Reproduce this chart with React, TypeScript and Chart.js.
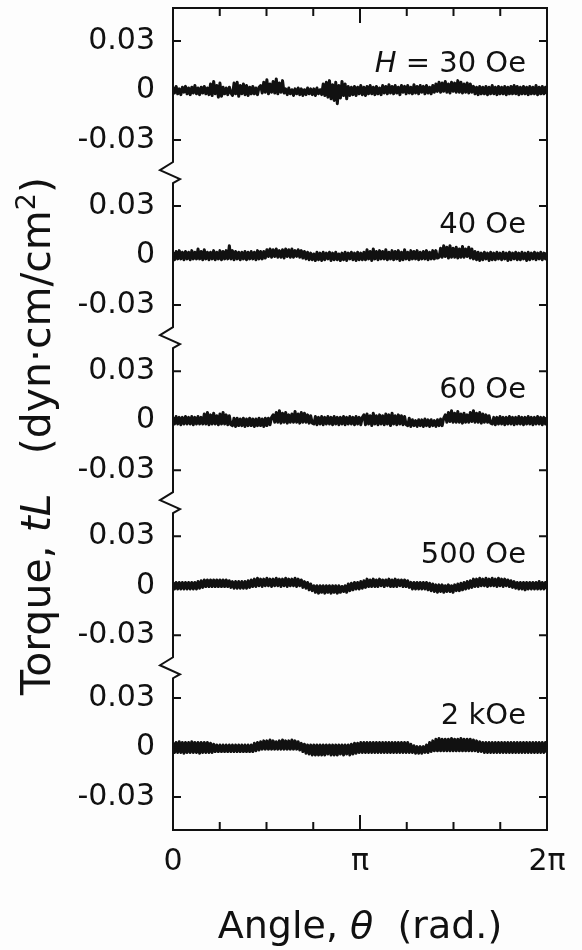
import { useEffect, useRef } from "react";
import { Chart, registerables } from "chart.js";

Chart.register(...registerables);

// ---- data (torque values in units of 0.001 dyn·cm/cm², sampled evenly over 0..2π) ----
const fieldLabels = ["30 Oe", "40 Oe", "60 Oe", "500 Oe", "2 kOe"];
const panelOffsets = [-0.05, -0.15, -0.25, -0.35, -0.448];
const breakPositions = [-0.1, -0.2, -0.3, -0.4];
const yTickValues = [0.03, 0, -0.03];
const yTickLabels = ["0.03", "0", "-0.03"];
const xTickValues = [0, Math.PI, 2 * Math.PI];
const xTickLabels = ["0", "π", "2π"];
const xMinorTicks = [1, 2, 3, 5, 6, 7].map((k) => (k * Math.PI) / 4);

const torque30 = [
  2, -1.5, 2.5, -2, 1, -2.5, 2, -1, 2.5, -2,
  1.5, -2.5, 2, -1.5, 3, -2, 1.5, -2.5, 2, -1.5,
  2.5, -2, 1.5, -2.5, 4, -3, 5.5, -2, 3, -4,
  4.5, -3.5, 2, -2, 1.5, -2.5, 2, -1.5, -3, 4.5,
  -2, 5, -3.5, 3, -2, 4, -2.5, 3, -3, 2,
  -2, 2.5, -2, 1.5, -2.5, 2, 3, -1.5, 5, -1,
  6.5, -2, 4, -1, 5.5, -1.5, 7, -2, 4.5, -1,
  6, -1.5, 1, -2.5, 1.5, -2, 0.5, -3, 1, -2,
  1.5, -2.5, 1, -3, 0.5, -2.5, 1.5, -2, 1, -2.5,
  1, -3, 1.5, -2, 0.5, -2.5, 4, -3, 5, -4,
  6, -5, 3.5, -6, 5, -8, 3, -4.5, 5.5, -3,
  4, -5, 2.5, -3, 2, -2.5, 2.5, -3, 2, -2,
  3, -2.5, 2, -3, 2.5, -2, 3, -2, 2, -2.5,
  2.5, -2, 1.5, -2.5, 3, -1.5, 2.5, -2, 3.5, -1.5,
  2.5, -2, 3, -1.5, 2, -2.5, 3, -1, 2.5, -2,
  3, -1.5, 2, -2, 3.5, -1.5, 2.5, -2, 3, -1,
  2.5, -2, 3, -1.5, 2, -2, 3, -1, 4, -0.5,
  5, -1, 4.5, -0.5, 5.5, -1, 4, -1.5, 5, -0.5,
  4.5, -1, 6, -1, 5, -1.5, 4, -1, 4.5, -1.5,
  4, -1, 2.5, -2, 2, -2.5, 2.5, -2, 2, -2,
  2.5, -2.5, 2, -2, 3, -2, 2, -2.5, 2.5, -2,
  2, -2, 2.5, -2.5, 2, -2, 2.5, -2, 3, -2,
  2.5, -2.5, 2, -2, 2.5, -2, 2, -2.5, 2.5, -2,
  2, -2, 3, -2.5, 2, -2, 2.5, -2, 2, -2,
];
const torque40 = [
  2, -2.5, 2.5, -2, 3, -2, 2, -2.5, 2.5, -2,
  2, -2.5, 3, -2, 2, -2, 4, -2, 2.5, -2.5,
  3.5, -2, 2, -2.5, 2, -2, 3, -2.5, 2, -2,
  3, -2.5, 2.5, -2, 3, -2, 6, -2, 3, -2.5,
  2.5, -2, 2, -2.5, 2, -2, 2.5, -2.5, 2, -2,
  2.5, -2, 2, -2.5, 3, -2, 2.5, -2, 2.5, -1.5,
  3.5, -0.5, 4, -1, 3.5, -0.5, 4, -1, 3, -1,
  3.5, -1.5, 4, -0.5, 3.5, -1, 4, -1, 3, -0.5,
  3.5, -1, 3, -1.5, 2.5, -2, 2, -2.5, 1.5, -2.5,
  1, -3, 2, -2.5, 1.5, -3, 2, -2.5, 1.5, -2,
  2, -3, 1.5, -2.5, 2, -2.5, 1, -3, 1.5, -2.5,
  2, -3, 1.5, -2, 2, -2.5, 1.5, -3, 2, -2.5,
  1.5, -2.5, 2, -2.5, 3.5, -2, 2.5, -3, 4, -2,
  2.5, -2.5, 3, -2, 2.5, -2, 3.5, -2.5, 2, -2,
  3, -2.5, 2.5, -2, 3, -3, 2, -2.5, 3.5, -2,
  2, -2.5, 3, -2, 2.5, -2, 3, -2.5, 2, -2,
  2.5, -2, 3, -2.5, 2, -2, 3, -2, 3, -1.5,
  -1, 4.5, -1, 6, -0.5, 5, -1.5, 6, -1, 4.5,
  -1, 5, -1.5, 4, -1, 5.5, -1, 4, -0.5, 5,
  -1.5, 4, -2, 2.5, -2.5, 2, -3, 1.5, -2.5, 2,
  -2, 1.5, -3, 2, -2.5, 1.5, -2.5, 2, -2, 1.5,
  -2.5, 2, -2, 1.5, -3, 2, -2.5, 1.5, -2, 2,
  -2.5, 1.5, -2.5, 2, -2, 1.5, -3, 2, -2.5, 1.5,
  -2, 2, -2.5, 1.5, -2, 2, -2.5, 1.5, -2, 2,
];
const torque60 = [
  2, -2, 2.5, -2, 2, -2.5, 2, -2, 2.5, -2,
  2, -2, 2.5, -2.5, 2, -2, 2.5, -2, 2, -2,
  4, -2, 5, -2.5, 3.5, -2, 4.5, -2, 3, -2.5,
  4, -2, 5, -2, 3.5, -2.5, 3, -2.5, -3, 1.5,
  -3.5, 1.5, -3, 1, -3, 1.5, -3.5, 1, -3, 1.5,
  -3, 1, -3.5, 1, -3, 1.5, -3, 1, -3.5, 1.5,
  -3, 1.5, -2.5, 2, 3.5, -1, 5, -1, 6, -1.5,
  4.5, -1, 5, -1.5, 3.5, -1, 4, -1, 5.5, -1,
  4, -1.5, 5, -1, 4.5, -1, 3.5, -1.5, 3, -1.5,
  -2, 2.5, -2.5, 2, -2, 2.5, -2.5, 2, -2, 2.5,
  -2, 2, -2.5, 2.5, -2, 2, -2.5, 2, -2, 2.5,
  -2.5, 2, -2, 2.5, -2, 2, -2.5, 2.5, -2, 2,
  -2.5, 2, 3.5, -2.5, 4, -2, 3, -3, 4.5, -2,
  3, -2.5, 3.5, -2, 3, -2.5, 4, -2, 3.5, -3,
  4.5, -2, 3, -2.5, 3.5, -2, 3, -2.5, 2.5, -2.5,
  -3, 1.5, -3.5, 0.5, -3, 0, -3.5, 0.5, -3, 0.5,
  -3.5, 1, -3, 0.5, -3.5, 0.5, -3, 0, -3.5, 0.5,
  -3, 1, -3, 1.5, 3.5, -1, 5, -0.5, 6, -1,
  4.5, -1, 5.5, -1, 4, -1.5, 4.5, -1, 3.5, -1,
  5, -0.5, 6, -1, 4.5, -1, 5, -1.5, 4, -1,
  3.5, -1, 3, -1.5, -2, 2, -2.5, 2, -2, 2.5,
  -2, 2, -2.5, 2, -2, 2.5, -2, 2, -2.5, 2,
  -2, 2.5, -2, 2, -2.5, 2, -2, 2.5, -2, 2,
  -2.5, 2, -2, 2.5, -2, 2, -2.5, 2, -2, 2,
];
const torque500 = [
  2, -2, 2, -2, 2, -2, 2, -2, 2, -2,
  2, -2, 2, -2, 2, -2, 2.5, -1.5, 3, -1,
  3.5, -0.5, 3.5, -0.5, 3.5, -0.5, 3.5, -0.5, 3.5, -0.5,
  3.5, -0.5, 3.5, -0.5, 3.5, -0.5, 3, -1, 2.5, -1.5,
  2.5, -1.5, 2.5, -1.5, 2.5, -1.5, 2.5, -1.5, 3, -1,
  3.5, -0.5, 4, -0.5, 4.5, 0, 4, -0.5, 4, 0,
  4.5, 0, 4, -0.5, 4, 0, 4.5, 0, 4, -0.5,
  4, 0, 4.5, -0.5, 4, 0, 4, 0, 4.5, -0.5,
  4, 0, 3.5, -1, 2.5, -1.5, 2, -2.5, 1, -3,
  0, -4, 0, -4.5, 0, -4, 0, -4.5, 0, -4,
  0, -4.5, 0, -4, 0, -4.5, 0, -4, -0.5, -3.5,
  0, -4, 1, -3, 1.5, -2.5, 2, -2, 2, -2,
  2.5, -1.5, 3, -1, 4, -0.5, 3.5, -0.5, 4, -0.5,
  3.5, -0.5, 4, 0, 3.5, -0.5, 3.5, 0, 4, -0.5,
  3.5, -0.5, 4, -0.5, 3.5, 0, 3.5, -0.5, 3.5, -0.5,
  3, -1, 2, -2, 2, -2, 2, -2, 2, -2,
  2, -2, 2, -2.5, 1.5, -3, 1, -3.5, 0.5, -4,
  0.5, -3.5, 0.5, -4, 0, -3.5, 0.5, -3.5, 0, -4,
  0.5, -3, 1, -3, 1.5, -2.5, 2, -2, 2.5, -1.5,
  3, -1, 4, -0.5, 4, -0.5, 4.5, 0, 4, 0,
  4.5, -0.5, 4, 0, 4.5, 0, 4, -0.5, 4.5, 0,
  4, -0.5, 4, 0, 3.5, -0.5, 3, -1, 2.5, -1.5,
  2, -2, 2, -2, 2, -2.5, 2, -2, 2, -2,
  2, -2, 2, -2, 2.5, -2, 2, -2, 2, -2,
];
const torque2k = [
  3, -3, 3, -3, 3.5, -3, 3, -3.5, 3, -3,
  3, -3, 3.5, -3, 3, -3, 3, -3.5, 3, -3,
  3, -3, 3, -3, 2.5, -3, 2, -2.5, 1.5, -2.5,
  1.5, -2.5, 1.5, -2.5, 1.5, -2.5, 1.5, -2.5, 1.5, -2.5,
  1.5, -2.5, 1.5, -2.5, 1.5, -2.5, 1.5, -2.5, 1.5, -2.5,
  1.5, -2.5, 2.5, -2, 3, -1.5, 3.5, -1, 4, -1,
  4, -1, 4.5, -1, 4, -1, 3.5, -1, 4, -1,
  4.5, -1, 4, -1, 4, -1, 4.5, -1, 4, -1,
  3.5, -1.5, 2.5, -2.5, 2, -3.5, 1.5, -4, 1.5, -4.5,
  1.5, -4.5, 1.5, -4.5, 1.5, -4.5, 1.5, -4.5, 1.5, -4,
  1.5, -4.5, 1.5, -4.5, 1.5, -4.5, 1.5, -4, 1.5, -4.5,
  1.5, -4, 1.5, -4.5, 2, -4, 2.5, -3.5, 2.5, -3,
  3, -3, 3, -3, 3, -3, 3, -3, 3, -3,
  3, -3, 3, -3, 3, -3, 3, -3, 3, -3,
  3, -3, 3, -3, 3, -3, 3, -3, 3, -3,
  3, -3, 2, -3, 1, -3.5, 0.5, -3.5, 0.5, -3.5,
  0.5, -3, 1.5, -3, 3, -2.5, 4, -2, 5, -2,
  5.5, -2, 5, -2, 5, -2, 5, -2, 5.5, -2,
  5, -2, 5, -2, 5.5, -2, 5, -2, 5, -2,
  5, -2, 4.5, -2, 4, -2.5, 3.5, -2.5, 3, -3,
  3, -3, 3, -3, 3, -3, 3, -3, 3, -3,
  3, -3, 3, -3, 3, -3, 3, -3, 3, -3,
  3, -3, 3, -3, 3, -3, 3, -3, 3, -3,
  3, -3, 3, -3, 3, -3, 3, -3, 3, -3,
];
const seriesList = [torque30, torque40, torque60, torque500, torque2k];

const FONT = "'DejaVu Sans', 'Liberation Sans', sans-serif";

type Part = { t: string; font: string; dy?: number };

function drawParts(ctx: CanvasRenderingContext2D, parts: Part[], x: number, y: number, align: "left" | "center" | "right") {
  const widths = parts.map((p) => {
    ctx.font = p.font;
    return ctx.measureText(p.t).width;
  });
  const total = widths.reduce((a, b) => a + b, 0);
  let cx = align === "left" ? x : align === "center" ? x - total / 2 : x - total;
  ctx.textAlign = "left";
  ctx.textBaseline = "alphabetic";
  parts.forEach((p, i) => {
    ctx.font = p.font;
    ctx.fillText(p.t, cx, y + (p.dy || 0));
    cx += widths[i];
  });
}

const decorPlugin = {
  id: "decor",
  afterDraw(chart: any) {
    const ctx: CanvasRenderingContext2D = chart.ctx;
    const { left: L, right: R, top: T, bottom: B } = chart.chartArea;
    const xs = chart.scales.x;
    const ys = chart.scales.y;
    ctx.save();
    ctx.strokeStyle = "#111";
    ctx.fillStyle = "#111";
    ctx.lineWidth = 2;
    ctx.lineCap = "butt";
    ctx.lineJoin = "miter";

    // frame: top, right, bottom
    ctx.beginPath();
    ctx.moveTo(L - 1, T);
    ctx.lineTo(R, T);
    ctx.lineTo(R, B);
    ctx.lineTo(L - 1, B);
    ctx.stroke();

    // left border with break marks
    ctx.beginPath();
    ctx.moveTo(L, T - 1);
    breakPositions.forEach((b) => {
      const yb = ys.getPixelForValue(b);
      ctx.lineTo(L, yb - 11);
      ctx.lineTo(L - 13, yb - 3);
      ctx.lineTo(L + 7, yb + 6);
      ctx.lineTo(L, yb + 10);
    });
    ctx.lineTo(L, B + 1);
    ctx.stroke();

    // y ticks (inward, both sides)
    ctx.beginPath();
    panelOffsets.forEach((o) => {
      yTickValues.forEach((v) => {
        const y = ys.getPixelForValue(o + v);
        ctx.moveTo(L, y);
        ctx.lineTo(L + 8, y);
        ctx.moveTo(R, y);
        ctx.lineTo(R - 8, y);
      });
    });
    // x ticks (inward, top and bottom)
    xMinorTicks.forEach((v) => {
      const x = xs.getPixelForValue(v);
      ctx.moveTo(x, B);
      ctx.lineTo(x, B - 8);
      ctx.moveTo(x, T);
      ctx.lineTo(x, T + 8);
    });
    const xp = xs.getPixelForValue(Math.PI);
    ctx.moveTo(xp, B);
    ctx.lineTo(xp, B - 15);
    ctx.moveTo(xp, T);
    ctx.lineTo(xp, T + 15);
    ctx.stroke();

    // field labels
    const lblFont = `29px ${FONT}`;
    const lblItal = `italic 29px ${FONT}`;
    fieldLabels.forEach((f, i) => {
      const y = ys.getPixelForValue(panelOffsets[i]) - (i === 0 ? 19 : 23);
      const parts: Part[] = i === 0
        ? [{ t: "H", font: lblItal }, { t: " = " + f, font: lblFont }]
        : [{ t: f, font: lblFont }];
      drawParts(ctx, parts, 526, y, "right");
    });

    // x title
    const tf = `38px ${FONT}`;
    const ti = `italic 38px ${FONT}`;
    drawParts(ctx, [
      { t: "Angle, ", font: tf },
      { t: "θ", font: ti },
      { t: "  (rad.)", font: tf },
    ], (L + R) / 2, 938, "center");

    // y title
    const yf = `41px ${FONT}`;
    const yi = `italic 41px ${FONT}`;
    const ysup = `27px ${FONT}`;
    ctx.save();
    ctx.translate(50, 436);
    ctx.rotate(-Math.PI / 2);
    drawParts(ctx, [
      { t: "Torque, ", font: yf },
      { t: "tL", font: yi },
      { t: "   (dyn·cm/cm", font: yf },
      { t: "2", font: ysup, dy: -15 },
      { t: ")", font: yf },
    ], 0, 0, "center");
    ctx.restore();

    ctx.restore();
  },
};

function zeroPadding(s: any) {
  s.paddingTop = 0;
  s.paddingBottom = 0;
  s.paddingLeft = 0;
  s.paddingRight = 0;
}

export default function App() {
  const canvasRef = useRef<HTMLCanvasElement | null>(null);

  useEffect(() => {
    document.body.style.margin = "0";
    const canvas = canvasRef.current;
    if (!canvas) return;
    const datasets = seriesList.map((s, k) => ({
      label: fieldLabels[k],
      data: s.map((v, i) => ({ x: (i * 2 * Math.PI) / (s.length - 1), y: panelOffsets[k] + v / 1000 })),
      borderColor: "#111",
      backgroundColor: "#111",
      borderWidth: 3,
      borderJoinStyle: "round",
      pointRadius: 0,
      tension: 0,
      fill: false,
    }));

    const chart = new Chart(canvas, {
      type: "line",
      data: { datasets },
      options: {
        animation: false,
        responsive: false,
        events: [],
        layout: { padding: { top: 8, right: 35, left: 0, bottom: 0 } },
        plugins: { legend: { display: false }, tooltip: { enabled: false } },
        scales: {
          x: {
            type: "linear",
            min: 0,
            max: 2 * Math.PI,
            grid: { display: false, drawTicks: false },
            border: { display: false },
            ticks: {
              autoSkip: false,
              maxRotation: 0,
              padding: 14,
              color: "#111",
              font: { family: FONT, size: 30 },
              callback: (_v: any, i: number) => xTickLabels[i],
            },
            afterBuildTicks: (s: any) => {
              s.ticks = xTickValues.map((v) => ({ value: v }));
            },
            afterFit: (s: any) => {
              s.height = 120;
              zeroPadding(s);
            },
          },
          y: {
            type: "linear",
            min: -0.498,
            max: 0,
            grid: { display: false, drawTicks: false },
            border: { display: false },
            ticks: {
              autoSkip: false,
              padding: 18,
              color: "#111",
              font: { family: FONT, size: 30 },
              callback: (_v: any, i: number) => yTickLabels[i % 3],
            },
            afterBuildTicks: (s: any) => {
              s.ticks = panelOffsets.flatMap((o) => yTickValues.map((v) => ({ value: o + v })));
            },
            afterFit: (s: any) => {
              s.width = 173;
              zeroPadding(s);
            },
          },
        },
      } as any,
      plugins: [decorPlugin],
    });
    return () => chart.destroy();
  }, []);

  return (
    <div style={{ width: 582, height: 950, background: "#fdfdfd" }}>
      <canvas ref={canvasRef} width={582} height={950} style={{ display: "block" }} />
    </div>
  );
}
